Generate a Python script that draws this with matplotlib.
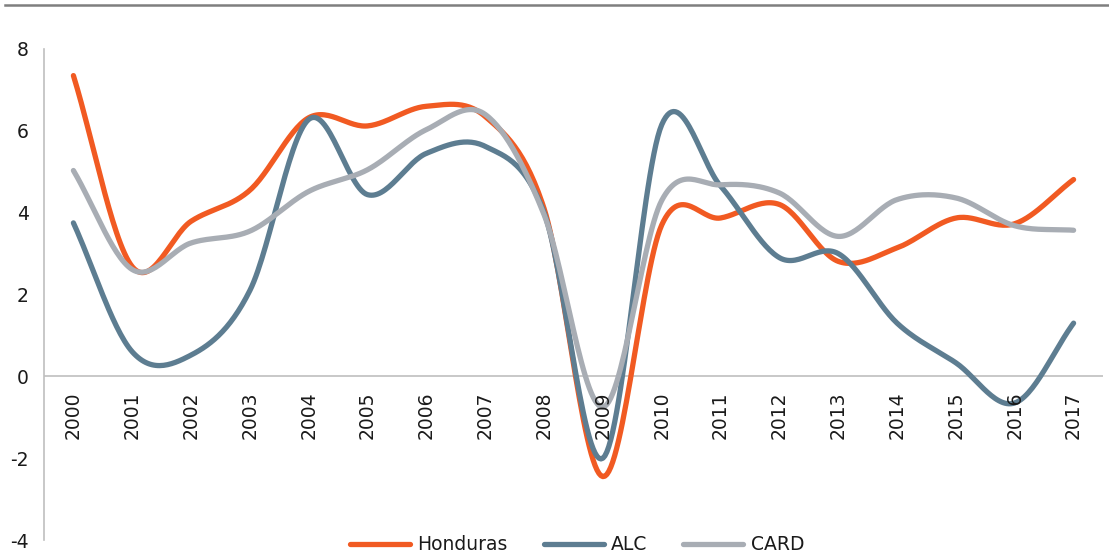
import matplotlib
matplotlib.use("Agg")
import matplotlib.pyplot as plt
from matplotlib.lines import Line2D
import numpy as np

# --- DATA
years = list(range(2000, 2018))
honduras = [7.35, 2.68, 3.79, 4.55, 6.32, 6.12, 6.60, 6.35, 4.10, -2.45, 3.70, 3.87, 4.20, 2.81, 3.14, 3.87, 3.73, 4.81]
alc      = [3.75, 0.60, 0.52, 2.10, 6.28, 4.44, 5.45, 5.62, 4.00, -2.00, 6.15, 4.65, 2.90, 3.00, 1.30, 0.33, -0.65, 1.30]
card     = [5.03, 2.61, 3.26, 3.55, 4.52, 5.05, 6.03, 6.40, 3.95, -0.75, 4.30, 4.68, 4.48, 3.42, 4.32, 4.36, 3.68, 3.57]
series_names = ["Honduras", "ALC", "CARD"]
yticks = [-4, -2, 0, 2, 4, 6, 8]

COLORS = ["#F15A22", "#5D7D91", "#A8ADB4"]
FONT = ["DejaVu Sans"]
FS = 13.5
TXT = "#1a1a1a"


def smooth(x, y, n=30):
    # Catmull-Rom curve like the spreadsheet "smoothed line"
    x = np.asarray(x, float)
    y = np.asarray(y, float)
    px = np.concatenate([[2 * x[0] - x[1]], x, [2 * x[-1] - x[-2]]])
    py = np.concatenate([[y[0] - (y[1] - y[0])], y, [y[-1] + (y[-1] - y[-2])]])
    xs, ys = [], []
    t = np.linspace(0, 1, n, endpoint=False)
    h00 = 2 * t**3 - 3 * t**2 + 1
    h10 = t**3 - 2 * t**2 + t
    h01 = -2 * t**3 + 3 * t**2
    h11 = t**3 - t**2
    for i in range(1, len(px) - 2):
        for P, out in ((px, xs), (py, ys)):
            p0, p1, p2, p3 = P[i - 1], P[i], P[i + 1], P[i + 2]
            m1 = (p2 - p0) / 2
            m2 = (p3 - p1) / 2
            out.extend(h00 * p1 + h10 * m1 + h01 * p2 + h11 * m2)
    xs.append(x[-1])
    ys.append(y[-1])
    return np.array(xs), np.array(ys)


fig = plt.figure(figsize=(11.09, 5.60), dpi=100)
ax = fig.add_axes([44 / 1109, 1 - 540 / 560, (1103 - 44) / 1109, (540 - 49) / 560])

xpos = np.arange(len(years))
for vals, name, col in zip([honduras, alc, card], series_names, COLORS):
    sx, sy = smooth(xpos, vals)
    ax.plot(sx, sy, color=col, lw=3.8, solid_capstyle="round", label=name)

ax.set_xlim(-0.5, len(years) - 0.5)
ax.set_ylim(-4, 8)
ax.set_yticks(yticks)
ax.set_yticklabels([str(v) for v in yticks], fontsize=FS, color=TXT, family=FONT)
ax.tick_params(axis="y", length=0, pad=11)
ax.set_xticks([])

for s in ["top", "right", "bottom"]:
    ax.spines[s].set_visible(False)
ax.spines["left"].set_color("#BFBFBF")
ax.spines["left"].set_linewidth(1.2)
ax.axhline(0, color="#BFBFBF", lw=1.2, zorder=0)

# year labels hang under the zero line
for i, yr in enumerate(years):
    ax.annotate(str(yr), (i, 0), xytext=(0, -11), textcoords="offset points",
                rotation=90, ha="center", va="top", fontsize=FS, color=TXT, family=FONT)

leg = fig.legend(loc="center", bbox_to_anchor=(577 / 1109, 1 - 545 / 560), ncol=3, frameon=False,
                 handlelength=3.2, columnspacing=1.9, handletextpad=0.4,
                 prop={"family": FONT, "size": FS})
for t in leg.get_texts():
    t.set_color(TXT)

fig.add_artist(Line2D([5 / 1109, 1], [1 - 5 / 560, 1 - 5 / 560], color="#7F7F7F", lw=1.8,
                      transform=fig.transFigure))

plt.savefig("out.png", dpi=100)
